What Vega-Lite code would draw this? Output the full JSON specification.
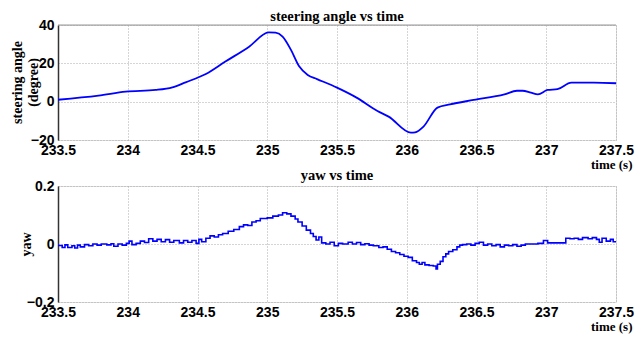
{
  "$schema": "https://vega.github.io/schema/vega-lite/v6.json",
  "background": "white",
  "padding": {"left": 9, "top": 8, "right": 5, "bottom": 3},
  "spacing": 46,
  "bounds": "flush",
  "datasets": {
    "steer": [
      {"t": 233.5, "v": 1.0}, {"t": 233.79, "v": 3.1}, {"t": 233.985, "v": 5.2}, {"t": 234.2, "v": 6.1},
      {"t": 234.32, "v": 7.5}, {"t": 234.415, "v": 10.1}, {"t": 234.56, "v": 14.4}, {"t": 234.7, "v": 20.9},
      {"t": 234.87, "v": 28.7}, {"t": 235.01, "v": 36.2}, {"t": 235.06, "v": 36.0}, {"t": 235.11, "v": 33.9},
      {"t": 235.17, "v": 27.0}, {"t": 235.23, "v": 18.3}, {"t": 235.29, "v": 13.9}, {"t": 235.357, "v": 11.8},
      {"t": 235.5, "v": 7.3}, {"t": 235.64, "v": 2.1}, {"t": 235.79, "v": -4.9}, {"t": 235.87, "v": -7.8},
      {"t": 236.03, "v": -16.2}, {"t": 236.06, "v": -16.0}, {"t": 236.12, "v": -13.0}, {"t": 236.22, "v": -3.1},
      {"t": 236.31, "v": -1.4}, {"t": 236.48, "v": 0.9}, {"t": 236.7, "v": 3.8}, {"t": 236.79, "v": 5.7},
      {"t": 236.83, "v": 5.7}, {"t": 236.89, "v": 4.7}, {"t": 236.94, "v": 3.8}, {"t": 237.01, "v": 6.1},
      {"t": 237.08, "v": 6.5}, {"t": 237.18, "v": 9.9}, {"t": 237.34, "v": 9.9}, {"t": 237.5, "v": 9.6}
    ],
    "yaw": [
      {"t": 233.50, "v": -0.005}, {"t": 233.53, "v": -0.012}, {"t": 233.55, "v": -0.003}, {"t": 233.57, "v": -0.012},
      {"t": 233.60, "v": -0.006}, {"t": 233.62, "v": -0.014}, {"t": 233.64, "v": -0.004}, {"t": 233.66, "v": -0.010},
      {"t": 233.69, "v": -0.002}, {"t": 233.72, "v": -0.006}, {"t": 233.75, "v": 0.000}, {"t": 233.78, "v": -0.004},
      {"t": 233.81, "v": 0.000}, {"t": 233.85, "v": -0.003}, {"t": 233.88, "v": 0.001}, {"t": 233.90, "v": -0.008},
      {"t": 233.93, "v": 0.000}, {"t": 233.96, "v": -0.004}, {"t": 233.99, "v": 0.002}, {"t": 234.01, "v": 0.010},
      {"t": 234.03, "v": -0.002}, {"t": 234.06, "v": 0.002}, {"t": 234.09, "v": 0.010}, {"t": 234.12, "v": 0.005},
      {"t": 234.15, "v": 0.018}, {"t": 234.18, "v": 0.010}, {"t": 234.21, "v": 0.016}, {"t": 234.24, "v": 0.008},
      {"t": 234.27, "v": 0.015}, {"t": 234.30, "v": 0.006}, {"t": 234.33, "v": 0.012}, {"t": 234.37, "v": 0.004},
      {"t": 234.40, "v": 0.012}, {"t": 234.43, "v": 0.006}, {"t": 234.46, "v": 0.012}, {"t": 234.49, "v": 0.002},
      {"t": 234.51, "v": 0.016}, {"t": 234.53, "v": 0.008}, {"t": 234.56, "v": 0.020}, {"t": 234.59, "v": 0.028},
      {"t": 234.62, "v": 0.024}, {"t": 234.65, "v": 0.032}, {"t": 234.68, "v": 0.036}, {"t": 234.72, "v": 0.044},
      {"t": 234.76, "v": 0.050}, {"t": 234.80, "v": 0.060}, {"t": 234.83, "v": 0.066}, {"t": 234.86, "v": 0.064},
      {"t": 234.89, "v": 0.076}, {"t": 234.92, "v": 0.080}, {"t": 234.95, "v": 0.088}, {"t": 235.00, "v": 0.090},
      {"t": 235.04, "v": 0.096}, {"t": 235.08, "v": 0.100}, {"t": 235.11, "v": 0.108}, {"t": 235.14, "v": 0.104},
      {"t": 235.17, "v": 0.096}, {"t": 235.20, "v": 0.086}, {"t": 235.22, "v": 0.076}, {"t": 235.25, "v": 0.062},
      {"t": 235.28, "v": 0.048}, {"t": 235.31, "v": 0.036}, {"t": 235.33, "v": 0.026}, {"t": 235.35, "v": 0.014},
      {"t": 235.37, "v": 0.024}, {"t": 235.39, "v": 0.004}, {"t": 235.42, "v": 0.000}, {"t": 235.45, "v": 0.006},
      {"t": 235.48, "v": -0.006}, {"t": 235.51, "v": 0.002}, {"t": 235.54, "v": 0.000}, {"t": 235.58, "v": 0.006},
      {"t": 235.61, "v": 0.000}, {"t": 235.64, "v": 0.005}, {"t": 235.67, "v": -0.002}, {"t": 235.70, "v": 0.001},
      {"t": 235.73, "v": -0.004}, {"t": 235.76, "v": -0.006}, {"t": 235.80, "v": -0.012}, {"t": 235.83, "v": -0.010},
      {"t": 235.86, "v": -0.018}, {"t": 235.89, "v": -0.026}, {"t": 235.92, "v": -0.030}, {"t": 235.95, "v": -0.036},
      {"t": 235.98, "v": -0.042}, {"t": 236.01, "v": -0.046}, {"t": 236.04, "v": -0.058}, {"t": 236.07, "v": -0.064},
      {"t": 236.09, "v": -0.070}, {"t": 236.11, "v": -0.064}, {"t": 236.13, "v": -0.072}, {"t": 236.16, "v": -0.074},
      {"t": 236.19, "v": -0.076}, {"t": 236.21, "v": -0.086}, {"t": 236.22, "v": -0.070}, {"t": 236.24, "v": -0.060},
      {"t": 236.26, "v": -0.044}, {"t": 236.28, "v": -0.034}, {"t": 236.30, "v": -0.026}, {"t": 236.33, "v": -0.020},
      {"t": 236.36, "v": -0.010}, {"t": 236.38, "v": -0.004}, {"t": 236.40, "v": -0.002}, {"t": 236.43, "v": 0.000},
      {"t": 236.46, "v": -0.004}, {"t": 236.49, "v": 0.002}, {"t": 236.52, "v": 0.006}, {"t": 236.55, "v": -0.004},
      {"t": 236.58, "v": 0.000}, {"t": 236.61, "v": -0.006}, {"t": 236.64, "v": -0.002}, {"t": 236.67, "v": -0.010},
      {"t": 236.70, "v": -0.004}, {"t": 236.73, "v": -0.006}, {"t": 236.76, "v": -0.002}, {"t": 236.79, "v": -0.008},
      {"t": 236.82, "v": -0.004}, {"t": 236.85, "v": 0.000}, {"t": 236.88, "v": 0.000}, {"t": 236.91, "v": 0.000},
      {"t": 236.94, "v": 0.002}, {"t": 236.98, "v": 0.012}, {"t": 237.01, "v": 0.004}, {"t": 237.04, "v": 0.004},
      {"t": 237.08, "v": 0.004}, {"t": 237.11, "v": 0.004}, {"t": 237.14, "v": 0.020}, {"t": 237.17, "v": 0.018},
      {"t": 237.20, "v": 0.020}, {"t": 237.23, "v": 0.016}, {"t": 237.26, "v": 0.022}, {"t": 237.30, "v": 0.018},
      {"t": 237.33, "v": 0.022}, {"t": 237.36, "v": 0.016}, {"t": 237.38, "v": 0.006}, {"t": 237.40, "v": 0.020},
      {"t": 237.43, "v": 0.010}, {"t": 237.46, "v": 0.016}, {"t": 237.48, "v": 0.008}, {"t": 237.50, "v": 0.008}
    ]
  },
  "config": {
    "view": {"stroke": "#dddddd"},
    "axis": {
      "labelFont": "Liberation Sans",
      "labelFontWeight": "bold",
      "labelFontSize": 14,
      "labelColor": "black",
      "titleFont": "Liberation Serif",
      "titleFontWeight": "bold",
      "titleFontSize": 14,
      "titleColor": "black",
      "ticks": false,
      "gridColor": "#aaaaaa",
      "gridDash": [1, 2],
      "gridWidth": 1,
      "labelOverlap": false,
      "labelBound": false,
      "labelFlush": false
    },
    "axisX": {"domain": false, "labelPadding": 3, "titleAnchor": "end", "titleAlign": "right", "titleBaseline": "bottom", "titleX": 574, "titleY": 31, "titleFontSize": 13},
    "axisY": {"domain": true, "domainColor": "#333333", "domainWidth": 1.5, "labelPadding": 4, "titleAngle": -90, "titleAlign": "center", "titleBaseline": "top", "titleLineHeight": 16},
    "title": {"font": "Liberation Serif", "fontWeight": "bold", "fontSize": 14.5, "color": "black"}
  },
  "vconcat": [
    {
      "width": 558,
      "height": 115,
      "title": {"text": "steering angle vs time", "offset": -6},
      "layer": [
        {
          "data": {"name": "steer"},
          "mark": {"type": "line", "color": "#0000ff", "strokeWidth": 1.8, "interpolate": "monotone"},
          "encoding": {
            "x": {"field": "t", "type": "quantitative", "scale": {"domain": [233.5, 237.5], "zero": false, "nice": false},
                  "axis": {"values": [233.5, 234, 234.5, 235, 235.5, 236, 236.5, 237, 237.5], "format": "~f", "title": "time (s)"}},
            "y": {"field": "v", "type": "quantitative", "scale": {"domain": [-20, 40], "nice": false},
                  "axis": {"values": [-20, 0, 20, 40], "format": "~f", "title": ["steering angle", "(degree)"], "titleX": -48, "titleY": 57}}
          }
        },
        {
          "data": {"values": [{}]},
          "mark": {"type": "rule", "color": "#999999", "strokeWidth": 1.2},
          "encoding": {
            "y": {"datum": 40, "type": "quantitative", "scale": {"domain": [-20, 40], "nice": false},
                  "axis": {"values": [-20, 0, 20, 40], "format": "~f", "title": ["steering angle", "(degree)"], "titleX": -48, "titleY": 57}}
          }
        }
      ]
    },
    {
      "width": 558,
      "height": 116,
      "title": {"text": "yaw vs time", "offset": -4},
      "data": {"name": "yaw"},
      "mark": {"type": "line", "color": "#0000ff", "strokeWidth": 1.6, "interpolate": "step-after"},
      "encoding": {
        "x": {"field": "t", "type": "quantitative", "scale": {"domain": [233.5, 237.5], "zero": false, "nice": false},
              "axis": {"values": [233.5, 234, 234.5, 235, 235.5, 236, 236.5, 237, 237.5], "format": "~f", "title": "time (s)"}},
        "y": {"field": "v", "type": "quantitative", "scale": {"domain": [-0.2, 0.2], "nice": false},
              "axis": {"values": [-0.2, 0, 0.2], "format": "~f", "title": "yaw", "titleX": -39, "titleY": 58}}
      }
    }
  ]
}
